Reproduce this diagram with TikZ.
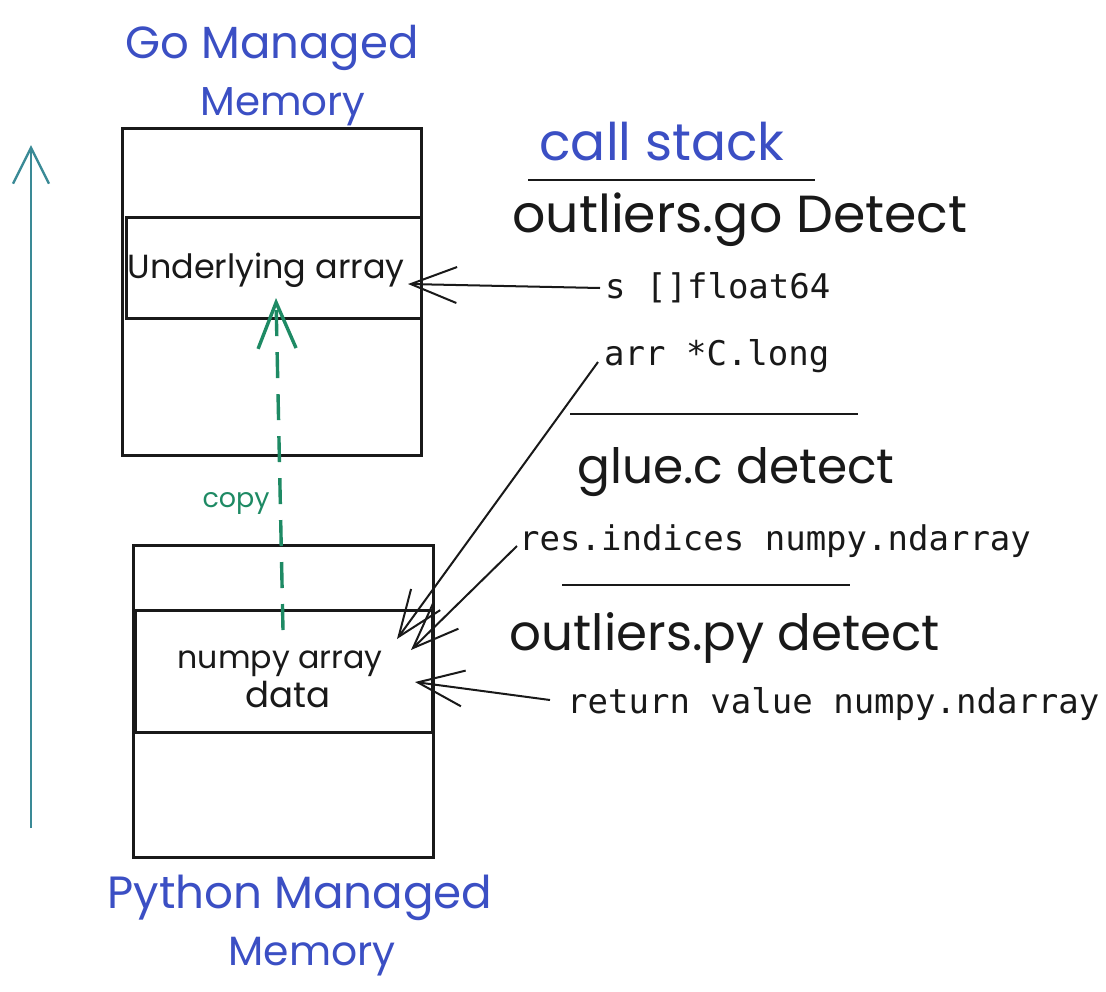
\documentclass[tikz,border=0pt]{standalone}
\usepackage{fontspec}
\usepackage{graphicx}
\setmainfont{Poppins}
\newfontfamily\monof{DejaVu Sans Mono}
\usetikzlibrary{arrows.meta}
\definecolor{inkblue}{RGB}{59,79,196}
\definecolor{copygreen}{RGB}{30,138,100}
\definecolor{tealink}{RGB}{58,138,150}
\definecolor{ink}{RGB}{25,25,25}
\newcommand{\hw}[2]{\resizebox{#1pt}{!}{#2}}
\tikzset{
  box/.style={draw=ink, line width=3pt, inner sep=0pt, outer sep=0pt},
  hand/.style={inner sep=0pt, anchor=base, text=ink},
  mono/.style={inner sep=0pt, anchor=base west, text=ink, font=\monof\fontsize{34}{40}\selectfont},
  sep/.style={draw=ink, line width=1.8pt},
  barb/.style={draw=ink, line width=2pt, -{Straight Barb[length=46pt,width=36pt]}},
}
\begin{document}
\begin{tikzpicture}[x=1pt,y=-1pt]
\useasboundingbox (0,0) rectangle (1106,991);
\fill[white] (0,0) rectangle (1106,991);

% boxes
\node[box, minimum width=299pt, minimum height=327pt] (goouter) at (271.5,291.5) {};
\node[box, minimum width=295pt, minimum height=101pt] (goinner) at (273.5,267.5) {};
\node[box, minimum width=300pt, minimum height=312pt] (pyouter) at (283,701) {};
\node[box, minimum width=297pt, minimum height=122pt] (pyinner) at (283.5,671) {};

% labels
\node[hand, text=inkblue] (goA) at (272,58) {\hw{293}{Go Managed}};
\node[hand, text=inkblue] (goB) at (283,115) {\hw{165}{Memory}};
\node[hand, text=inkblue] (pyA) at (300,908) {\hw{385}{Python Managed}};
\node[hand, text=inkblue] (pyB) at (312,965) {\hw{167}{Memory}};
\node[hand] (under) at (266,278) {\hw{277}{Underlying array}};
\node[hand] (numpyA) at (280,668) {\hw{205}{numpy array}};
\node[hand] (numpyB) at (288,707) {\hw{85}{data}};
\node[hand, text=copygreen] (copy) at (236,507) {\hw{67}{copy}};

% call stack
\node[hand, text=inkblue] (callstack) at (662,160) {\hw{245}{call stack}};
\draw[sep] (528,180) -- (815,180);
\node[hand] (ogo) at (740,232) {\hw{455}{outliers.go Detect}};
\node[mono] (s) at (605,298) {s []float64};
\node[mono] (arr) at (604,365) {arr *C.long};
\draw[sep] (570,414) -- (858,414);
\node[hand] (glue) at (736,483) {\hw{317}{glue.c detect}};
\node[mono] (res) at (519,550) {res.indices numpy.ndarray};
\draw[sep] (562,585) -- (850,585);
\node[hand] (opy) at (725,650) {\hw{430}{outliers.py detect}};
\node[mono] (ret) at (567,713) {return value numpy.ndarray};

% connectors
\coordinate (tipS) at (408,284);
\coordinate (tipArr) at (397,639);
\coordinate (tipRes) at (411,650);
\coordinate (tipRet) at (415,682);
\draw[barb] ([xshift=-5pt,yshift=10pt]s.base west) -- (tipS);
\draw[barb] ([xshift=-6pt,yshift=3pt]arr.base west) -- (tipArr);
\draw[barb] ([xshift=-2pt,yshift=4pt]res.base west) -- (tipRes);
\draw[barb] ([xshift=-17pt,yshift=13pt]ret.base west) -- (tipRet);

% copy arrow
\coordinate (copyStart) at (283,630);
\coordinate (copyTip) at (276,298);
\draw[copygreen, line width=3.4pt, dash pattern=on 26pt off 16pt,
  -{Straight Barb[length=46pt,width=38pt,line width=3.4pt]}] (copyStart) -- (copyTip);

% left time arrow
\coordinate (leftBot) at (31,828);
\coordinate (leftTop) at (31,145);
\draw[tealink, line width=2.4pt, -{Straight Barb[length=36pt,width=36pt]}] (leftBot) -- (leftTop);
\end{tikzpicture}
\end{document}
